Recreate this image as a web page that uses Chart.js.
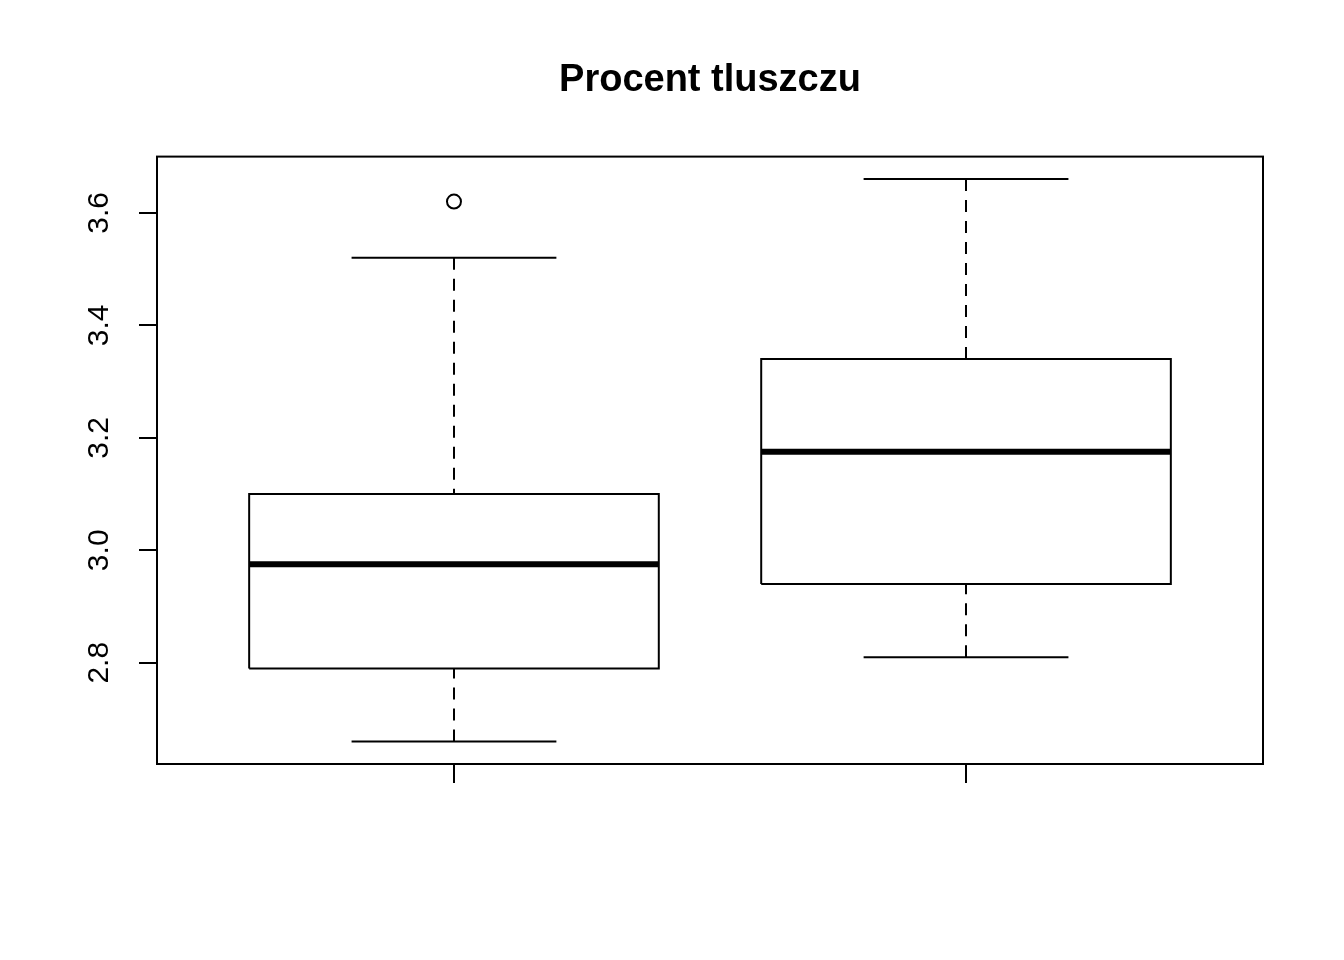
<!DOCTYPE html>
<html>
<head>
<meta charset="utf-8">
<script src="https://cdn.jsdelivr.net/npm/chart.js@4/dist/chart.umd.min.js"></script>
<style>
html,body{margin:0;padding:0;background:#fff;}
#wrap{width:1344px;height:960px;position:relative;}
</style>
</head>
<body>
<div id="wrap"><canvas id="c"></canvas></div>
<script>
// ---- data ----
const titleText = "Procent tluszczu";
const groups = [1, 2];
const lowerWhisker = [2.66, 2.81];
const q1 = [2.79, 2.94];
const median = [2.975, 3.175];
const q3 = [3.10, 3.34];
const upperWhisker = [3.52, 3.66];
const outliers = [[3.62], []];
const yTicks = [2.8, 3.0, 3.2, 3.4, 3.6];
const yRange = [2.62, 3.70];
const xRange = [0.42, 2.58];

const BOX_HALF = 0.4, CAP_HALF = 0.2;
const FONT = "'Liberation Sans', Arial, Helvetica, sans-serif";

const datasets = [];
const lineDs = (pts, w, dash) => ({
  data: pts, showLine: true, borderColor: '#000', borderWidth: w,
  borderDash: dash || [], pointRadius: 0, pointHoverRadius: 0, fill: false, tension: 0
});
groups.forEach((g, i) => {
  datasets.push(lineDs([{x:g,y:upperWhisker[i]},{x:g,y:q3[i]}], 2, [12,9]));
  datasets.push(lineDs([{x:g,y:lowerWhisker[i]},{x:g,y:q1[i]}], 2, [12,9]));
  datasets.push(lineDs([{x:g-CAP_HALF,y:upperWhisker[i]},{x:g+CAP_HALF,y:upperWhisker[i]}], 2));
  datasets.push(lineDs([{x:g-CAP_HALF,y:lowerWhisker[i]},{x:g+CAP_HALF,y:lowerWhisker[i]}], 2));
  datasets.push(lineDs([
    {x:g-BOX_HALF,y:q1[i]},{x:g+BOX_HALF,y:q1[i]},{x:g+BOX_HALF,y:q3[i]},
    {x:g-BOX_HALF,y:q3[i]},{x:g-BOX_HALF,y:q1[i]}], 2));
  datasets.push(lineDs([{x:g-BOX_HALF,y:median[i]},{x:g+BOX_HALF,y:median[i]}], 6));
  if (outliers[i].length) {
    datasets.push({
      data: outliers[i].map(v => ({x:g, y:v})), showLine: false,
      pointRadius: 7, pointStyle: 'circle', pointBackgroundColor: 'rgba(0,0,0,0)',
      pointBorderColor: '#000', pointBorderWidth: 2, pointHoverRadius: 7
    });
  }
});

const framePlugin = {
  id: 'frame',
  afterDraw(chart) {
    const ctx = chart.ctx, a = chart.chartArea;
    ctx.save();
    ctx.strokeStyle = '#000';
    ctx.lineWidth = 2;
    ctx.strokeRect(a.left, a.top, a.right - a.left, a.bottom - a.top);
    // rotated y labels
    const ys = chart.scales.y;
    ctx.fillStyle = '#000';
    ctx.font = "30px " + FONT;
    ctx.textAlign = 'center';
    ctx.textBaseline = 'middle';
    yTicks.forEach(v => {
      const py = ys.getPixelForValue(v);
      ctx.save();
      ctx.translate(100, py);
      ctx.rotate(-Math.PI / 2);
      ctx.fillText(v.toFixed(1), 0, 0);
      ctx.restore();
    });
    ctx.restore();
  }
};

new Chart(document.getElementById('c'), {
  type: 'scatter',
  data: { datasets },
  options: {
    responsive: true,
    maintainAspectRatio: false,
    animation: false,
    events: [],
    layout: { padding: { left: 0, right: 81, top: 0, bottom: 0 } },
    plugins: {
      legend: { display: false },
      tooltip: { enabled: false },
      title: {
        display: true, text: titleText, fullSize: false, color: '#000',
        font: { size: 38, weight: 'bold', family: FONT },
        padding: { top: 58, bottom: 53 }
      }
    },
    scales: {
      x: {
        type: 'linear', min: xRange[0], max: xRange[1],
        afterBuildTicks: s => { s.ticks = groups.map(v => ({ value: v })); },
        afterFit: s => { s.height = 196; },
        ticks: { display: false },
        grid: { drawOnChartArea: false, drawTicks: true, tickLength: 19, color: '#000', lineWidth: 2 },
        border: { display: true, color: '#000', width: 2 }
      },
      y: {
        type: 'linear', min: yRange[0], max: yRange[1],
        afterBuildTicks: s => { s.ticks = yTicks.map(v => ({ value: v })); },
        afterFit: s => { s.width = 157; },
        ticks: { display: false },
        grid: { drawOnChartArea: false, drawTicks: true, tickLength: 18, color: '#000', lineWidth: 2 },
        border: { display: true, color: '#000', width: 2 }
      }
    }
  },
  plugins: [framePlugin]
});
</script>
</body>
</html>
